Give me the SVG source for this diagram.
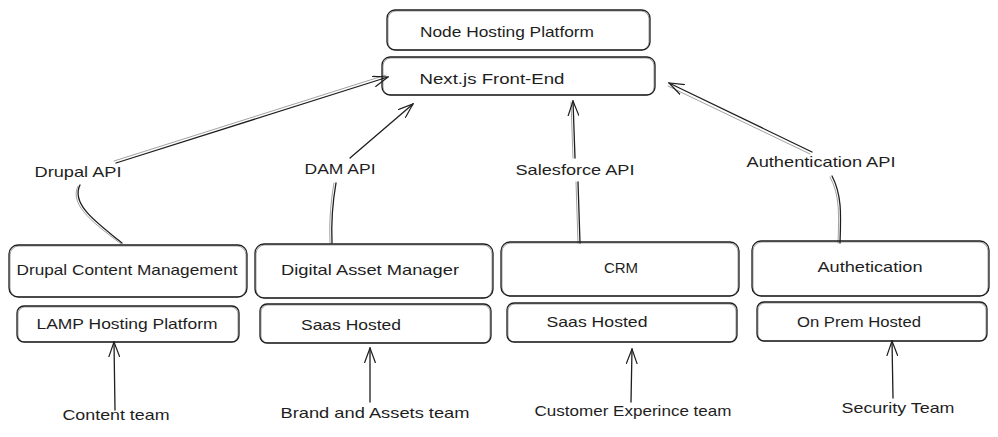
<svg xmlns="http://www.w3.org/2000/svg" width="998" height="437" viewBox="0 0 998 437">
<defs>
<style>
.box{fill:none;stroke:#1e1e1e;stroke-width:1.3}
.box2{fill:none;stroke:#1e1e1e;stroke-width:0.7;opacity:0.6}
.t{font-family:"Liberation Sans","DejaVu Sans",sans-serif;font-size:15px;fill:#1e1e1e;text-anchor:middle}
.c{fill:none;stroke:#1e1e1e;stroke-width:1.3;stroke-linecap:round}
.c2{fill:none;stroke:#1e1e1e;stroke-width:0.7;opacity:0.6;stroke-linecap:round}
</style>
<marker id="ah" viewBox="0 0 16 12" refX="15" refY="6" markerWidth="16" markerHeight="12" markerUnits="userSpaceOnUse" orient="auto">
<path d="M0,0.5 L15,6 L0,11.5" fill="none" stroke="#1e1e1e" stroke-width="1.2"/>
</marker>
</defs>
<rect width="998" height="437" fill="#ffffff"/>

<g id="node-hosting">
<rect class="box" x="387" y="10" width="263" height="40" rx="8"/>
<rect class="box2" x="388" y="11" width="261" height="39" rx="8"/>
<text class="t" x="507" y="37" textLength="174" lengthAdjust="spacingAndGlyphs">Node Hosting Platform</text>
</g>
<g id="nextjs">
<rect class="box" x="382" y="57" width="273" height="38" rx="8"/>
<rect class="box2" x="383" y="58" width="271" height="37" rx="8"/>
<text class="t" x="492" y="84" textLength="145" lengthAdjust="spacingAndGlyphs">Next.js Front-End</text>
</g>

<g id="drupal">
<rect class="box" x="9" y="245" width="238" height="52" rx="9"/>
<rect class="box2" x="10" y="246" width="236" height="51" rx="9"/>
<text class="t" x="127" y="275" textLength="221" lengthAdjust="spacingAndGlyphs">Drupal Content Management</text>
</g>
<g id="lamp">
<rect class="box" x="17" y="306" width="222" height="36" rx="7"/>
<rect class="box2" x="18" y="307" width="220" height="35" rx="7"/>
<text class="t" x="127" y="329" textLength="181" lengthAdjust="spacingAndGlyphs">LAMP Hosting Platform</text>
</g>

<g id="dam">
<rect class="box" x="255" y="244" width="238" height="54" rx="9"/>
<rect class="box2" x="256" y="245" width="236" height="53" rx="9"/>
<text class="t" x="370" y="275" textLength="178" lengthAdjust="spacingAndGlyphs">Digital Asset Manager</text>
</g>
<g id="saas1">
<rect class="box" x="260" y="304" width="231" height="39" rx="7"/>
<rect class="box2" x="261" y="305" width="229" height="38" rx="7"/>
<text class="t" x="351" y="330" textLength="100" lengthAdjust="spacingAndGlyphs">Saas Hosted</text>
</g>

<g id="crm">
<rect class="box" x="501" y="242" width="238" height="54" rx="9"/>
<rect class="box2" x="502" y="243" width="236" height="53" rx="9"/>
<text class="t" x="621" y="273">CRM</text>
</g>
<g id="saas2">
<rect class="box" x="507" y="303" width="230" height="39" rx="7"/>
<rect class="box2" x="508" y="304" width="228" height="38" rx="7"/>
<text class="t" x="597" y="327" textLength="101" lengthAdjust="spacingAndGlyphs">Saas Hosted</text>
</g>

<g id="auth">
<rect class="box" x="752" y="241" width="237" height="55" rx="9"/>
<rect class="box2" x="753" y="242" width="235" height="54" rx="9"/>
<text class="t" x="870" y="272" textLength="105" lengthAdjust="spacingAndGlyphs">Authetication</text>
</g>
<g id="onprem">
<rect class="box" x="757" y="302" width="230" height="39" rx="7"/>
<rect class="box2" x="758" y="303" width="228" height="38" rx="7"/>
<text class="t" x="859" y="327" textLength="124" lengthAdjust="spacingAndGlyphs">On Prem Hosted</text>
</g>

<g id="content-team"><text class="t" x="116" y="420" textLength="107" lengthAdjust="spacingAndGlyphs">Content team</text></g>
<g id="brand-team"><text class="t" x="375" y="418" textLength="189" lengthAdjust="spacingAndGlyphs">Brand and Assets team</text></g>
<g id="cx-team"><text class="t" x="633" y="416" textLength="197" lengthAdjust="spacingAndGlyphs">Customer Experince team</text></g>
<g id="security-team"><text class="t" x="898" y="413" textLength="113" lengthAdjust="spacingAndGlyphs">Security Team</text></g>

<g id="connectors">
<!-- Drupal API -->
<path class="c" d="M122,243 C100,225 70,205 80,185"/>
<path class="c2" d="M121,244 C98,226 68,206 78,186"/>
<path class="c" d="M116,163 L388,77" marker-end="url(#ah)"/>
<path class="c2" d="M114,161 L386,75"/>
<text class="t" x="78" y="177" textLength="87" lengthAdjust="spacingAndGlyphs">Drupal API</text>
<!-- DAM API -->
<path class="c" d="M332,243 C331,220 333,200 336,183"/>
<path class="c2" d="M330,243 C329,220 331,200 334,183"/>
<path class="c" d="M350,158 L413,104" marker-end="url(#ah)"/>
<text class="t" x="340" y="174" textLength="71" lengthAdjust="spacingAndGlyphs">DAM API</text>
<!-- Salesforce API -->
<path class="c" d="M580,243 L578,182"/>
<path class="c2" d="M578,243 L576,182"/>
<path class="c" d="M575,158 L573,101" marker-end="url(#ah)"/>
<path class="c2" d="M573,158 L571,102"/>
<text class="t" x="575" y="175" textLength="119" lengthAdjust="spacingAndGlyphs">Salesforce API</text>
<!-- Authentication API -->
<path class="c" d="M840,243 C841,215 842,195 832,176"/>
<path class="c2" d="M838,243 C839,215 840,195 830,177"/>
<path class="c" d="M812,152 L669,83" marker-end="url(#ah)"/>
<path class="c2" d="M810,154 L668,86"/>
<text class="t" x="821" y="167" textLength="149" lengthAdjust="spacingAndGlyphs">Authentication API</text>
<!-- bottom arrows -->
<path class="c" d="M115,410 L114,342" marker-end="url(#ah)"/>
<path class="c" d="M370,402 L370,348" marker-end="url(#ah)"/>
<path class="c" d="M631,402 L632,349" marker-end="url(#ah)"/>
<path class="c" d="M893,398 L892,341" marker-end="url(#ah)"/>
</g>
</svg>
